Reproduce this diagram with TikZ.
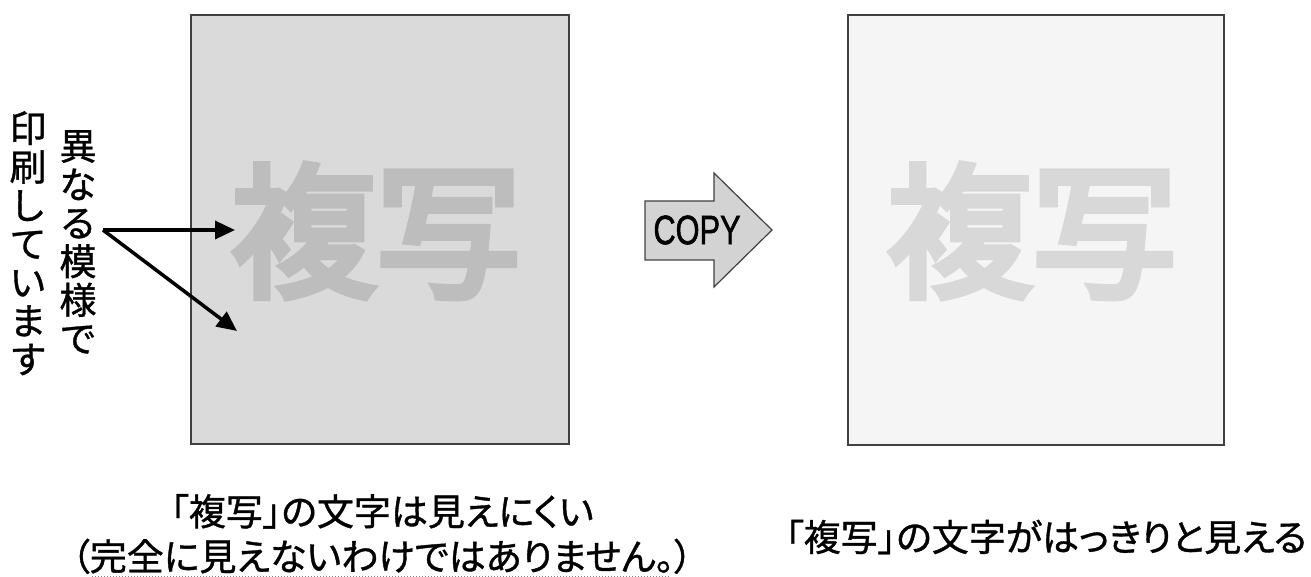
\documentclass[tikz,border=0pt]{standalone}
\usepackage{fontspec}
\setmainfont{Liberation Sans}
\newfontfamily\copyfont[FakeBold=1.5]{Liberation Sans}
\newfontfamily\cjk[FakeBold=5]{Noto Sans CJK JP}
\newfontfamily\cjkf[FakeBold=1]{Noto Sans CJK JP}
\newfontfamily\cjkp[RawFeature=+palt,FakeBold=1]{Noto Sans CJK JP}
\usetikzlibrary{arrows.meta}
\definecolor{boxline}{HTML}{404040}
\definecolor{leftbg}{HTML}{DADADA}
\definecolor{lefttxt}{HTML}{BDBDBD}
\definecolor{rightbg}{HTML}{F5F5F5}
\definecolor{righttxt}{HTML}{D8D8D8}
\definecolor{copyfill}{HTML}{D3D3D3}
\tikzset{
  sheet/.style={draw=boxline, line width=1.5pt, minimum width=378pt, minimum height=429pt, inner sep=0pt},
  bigtxt/.style={font={\fontsize{145}{145}\selectfont\cjk}, inner sep=0pt},
  vtxt/.style={font={\fontsize{37}{38.5}\selectfont\cjkf}, align=center, inner sep=0pt, anchor=north},
  label/.style={font={\fontsize{37}{45}\selectfont\cjkp}, align=center, inner sep=0pt},
  pointer/.style={line width=3.5pt, -{Triangle[length=20pt,width=18pt]}},
}
\begin{document}
\begin{tikzpicture}[x=1pt,y=-1pt]
\useasboundingbox (0,0) rectangle (1311,577);
% left sheet
\node[sheet, fill=leftbg] (left) at (380,229.5) {};
\node[bigtxt, text=lefttxt] (lword) at (376,231) {複写};
% right sheet
\node[sheet, fill=rightbg, minimum width=376pt, minimum height=430pt] (right) at (1036,230) {};
\node[bigtxt, text=righttxt] (rword) at (1032,231) {複写};
% vertical texts
\node[vtxt] (v1) at (78,130) {異\\な\\る\\模\\様\\で};
\node[vtxt] (v2) at (28,111) {印\\刷\\し\\て\\い\\ま\\す};
% pointers
\coordinate (src) at (103,230);
\coordinate (t1) at (235,230);
\coordinate (t2) at (237,331);
\draw[pointer] (src) -- (t1);
\draw[pointer] (src) -- (t2);
% COPY arrow
\draw[draw=boxline, line width=1.2pt, fill=copyfill, line join=miter]
  (645,201) -- (714,201) -- (714,173) -- (772,230) -- (714,287) -- (714,260) -- (645,260) -- cycle;
\node[inner sep=0pt, font=\fontsize{41}{41}\selectfont\copyfont] (copy) at (697,230) {\scalebox{0.75}[1]{COPY}};
% labels
\node[label] (llabel) at (382,534) {「複写」の文字は見えにくい\\（完全に見えないわけではありません。）};
\node[label] (rlabel) at (1046,537) {「複写」の文字がはっきりと見える};
\draw[gray, line width=1pt, dotted] (92,576) -- (670,576);
\end{tikzpicture}
\end{document}
